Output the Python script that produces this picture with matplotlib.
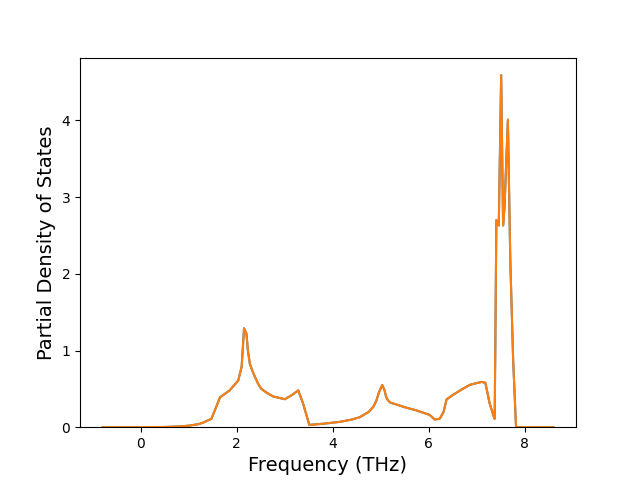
#! /usr/bin/env python3

# Imports
import matplotlib
matplotlib.use("Agg")
import matplotlib.pyplot as plt
import numpy as np


# Data
freq = [-0.8, 0.0, 0.5, 0.81, 1.0, 1.2, 1.3, 1.47, 1.54, 1.65, 1.85, 2.03,
        2.10, 2.15, 2.20, 2.23, 2.27, 2.32, 2.375, 2.44, 2.51, 2.62, 2.76,
        3.0, 3.15, 3.28, 3.38, 3.51, 3.8, 4.15, 4.4, 4.56, 4.75, 4.85, 4.91,
        4.96, 5.03, 5.08, 5.11, 5.15, 5.2, 5.36, 5.5, 5.74, 6.02, 6.125,
        6.23, 6.31, 6.37, 6.5, 6.71, 6.85, 6.9, 7.10, 7.18, 7.27, 7.36,
        7.375, 7.41, 7.46, 7.51, 7.55, 7.58, 7.65, 7.70, 7.76, 7.79, 7.82,
        8.6]
pdos_a = [0.0, 0.0, 0.003, 0.01, 0.02, 0.04, 0.06, 0.11, 0.22, 0.39, 0.48,
          0.61, 0.79, 1.29, 1.22, 1.0, 0.83, 0.74, 0.66, 0.57, 0.50, 0.45,
          0.40, 0.365, 0.42, 0.48, 0.31, 0.03, 0.045, 0.07, 0.10, 0.13,
          0.20, 0.27, 0.35, 0.45, 0.55, 0.48, 0.40, 0.35, 0.32, 0.29, 0.26,
          0.22, 0.16, 0.10, 0.11, 0.20, 0.36, 0.42, 0.50, 0.55, 0.56, 0.59,
          0.58, 0.31, 0.13, 0.11, 2.70, 2.63, 4.59, 2.63, 2.87, 4.01, 2.18,
          0.87, 0.44, 0.0, 0.0]
# second projection is identical
pdos_b = list(pdos_a)


# Code
fig, ax = plt.subplots(figsize=(6.4, 4.8), dpi=100)
ax.plot(freq, pdos_a, "-", color="tab:blue", linewidth=1.5)
ax.plot(freq, pdos_b, "-", color="tab:orange", linewidth=1.5)
ax.set_ylim(bottom=0)
ax.set_xlabel("Frequency (THz)", fontsize=14)
ax.set_ylabel("Partial Density of States", fontsize=14)
fig.savefig("out.png", dpi=100)
